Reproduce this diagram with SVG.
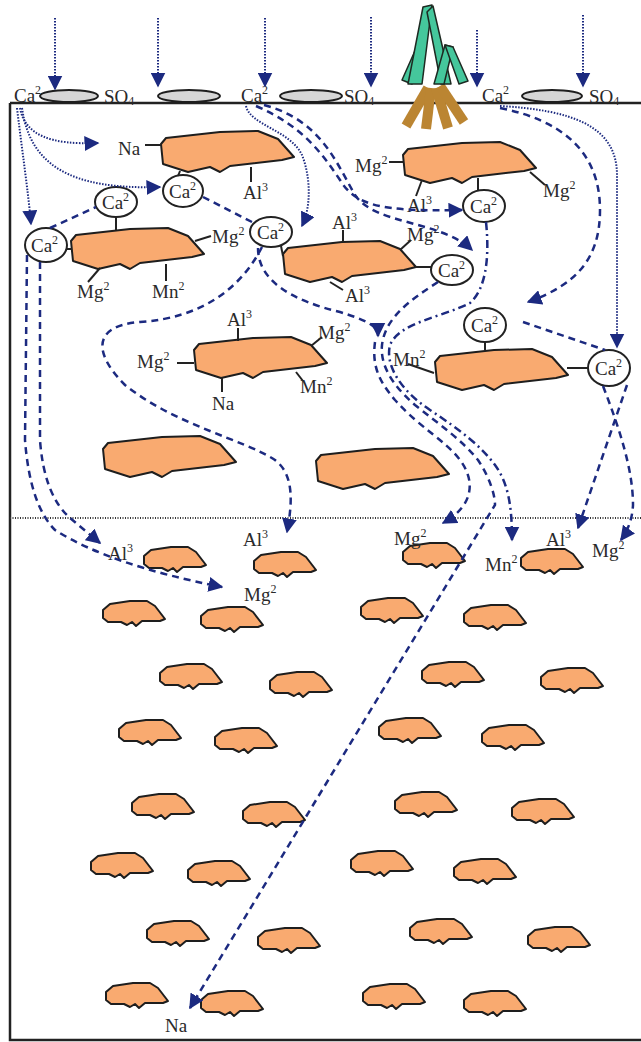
<svg xmlns="http://www.w3.org/2000/svg" width="641" height="1042" viewBox="0 0 641 1042">
<style>
  .p { fill: #f9aa70; stroke: #1e1e1e; stroke-width: 2; stroke-linejoin: round; }
  .t { font-family: "Liberation Serif", "Times New Roman", serif; font-size: 19px; fill: #2a2a2a; }
  .s { font-size: 12px; }
  .ion { fill: none; stroke: #222; stroke-width: 2; }
  .lk { stroke: #222; stroke-width: 2; fill: none; }
  .dot { fill: none; stroke: #1c2a80; stroke-width: 2; stroke-dasharray: 1.5 1.5; }
  .dash { fill: none; stroke: #1c2a80; stroke-width: 2.5; stroke-dasharray: 7 5; }
  .dd { fill: none; stroke: #1c2a80; stroke-width: 2.5; stroke-dasharray: 8 4 2 4; }
  .leaf { fill: #45c79c; stroke: #1e2a22; stroke-width: 1.5; stroke-linejoin: round; }
  .root { stroke: #bb8532; stroke-width: 10; }
  .disc { fill: #d6d6d6; stroke: #1e1e1e; stroke-width: 2; }
</style>
<defs>
  <marker id="ah" viewBox="0 0 10 10" refX="9" refY="5" markerWidth="15" markerHeight="15" markerUnits="userSpaceOnUse" orient="auto">
    <path d="M0,0 L10,5 L0,10 Z" fill="#1c2a80"/>
  </marker>
  <polygon id="big" points="1,14 6,8 60,2 98,1 118,9 134,27 122,30 70,36 60,42 50,37 28,42 3,34"/>
  <polygon id="small" points="1,10 8,4 28,1 45,1 53,6 63,19 58,21 40,21 34,26 30,22 25,25 19,22 6,22 1,18"/>
</defs>
<rect width="641" height="1042" fill="#fff"/>

<!-- soil profile frame -->
<g id="frame">
  <path d="M10,103 L641,103" stroke="#222" stroke-width="2.5"/>
  <path d="M10,103 L10,1040 L641,1040" stroke="#222" stroke-width="2.5" fill="none"/>
  <path d="M10,518 L641,518" stroke="#333" stroke-width="2" stroke-dasharray="1 1.5"/>
</g>

<!-- surface: gypsum granules and dissolving ions -->
<g id="surface">
  <ellipse class="disc" cx="69" cy="96" rx="29" ry="6"/>
  <ellipse class="disc" cx="189" cy="96" rx="31" ry="6"/>
  <ellipse class="disc" cx="311" cy="96" rx="31" ry="6"/>
  <ellipse class="disc" cx="552" cy="96" rx="30" ry="6"/>
  <text class="t" x="14" y="102">Ca<tspan class="s" dy="-8">2</tspan></text>
  <text class="t" x="104" y="103">SO<tspan class="s" dy="2" font-size="7">4</tspan></text>
  <text class="t" x="241" y="102">Ca<tspan class="s" dy="-8">2</tspan></text>
  <text class="t" x="344" y="103">SO<tspan class="s" dy="2" font-size="7">4</tspan></text>
  <text class="t" x="482" y="102">Ca<tspan class="s" dy="-8">2</tspan></text>
  <text class="t" x="589" y="103">SO<tspan class="s" dy="2" font-size="7">4</tspan></text>
</g>

<!-- plant -->
<g id="plant">
  <line class="root" x1="428" y1="88" x2="406" y2="126"/>
  <line class="root" x1="431" y1="88" x2="426" y2="129"/>
  <line class="root" x1="436" y1="88" x2="448" y2="128"/>
  <line class="root" x1="440" y1="86" x2="464" y2="122"/>
  <polygon class="leaf" points="402,80 418,44 425,48 412,84"/>
  <polygon class="leaf" points="408,84 423,7 432,5 422,84"/>
  <polygon class="leaf" points="427,12 433,6 451,84 441,84"/>
  <polygon class="leaf" points="434,84 445,45 453,47 444,84"/>
  <polygon class="leaf" points="445,45 453,47 468,81 459,84"/>
</g>

<!-- exchange sites in the upper layer -->
<g id="particle-1">
  <use href="#big" class="p" x="160" y="130"/>
  <line class="lk" x1="145" y1="145" x2="162" y2="145"/>
  <line class="lk" x1="180" y1="171" x2="178" y2="176"/>
  <line class="lk" x1="251" y1="167" x2="251" y2="182"/>
  <ellipse class="ion" cx="183" cy="191" rx="20" ry="16"/>
  <text class="t" x="118" y="155">Na</text>
  <text class="t" x="169" y="198">Ca<tspan class="s" dy="-8">2</tspan></text>
  <text class="t" x="243" y="199">Al<tspan class="s" dy="-8">3</tspan></text>
</g>
<g id="particle-2">
  <use href="#big" class="p" x="70" y="227"/>
  <line class="lk" x1="116" y1="217" x2="116" y2="230"/>
  <line class="lk" x1="66" y1="249" x2="72" y2="249"/>
  <line class="lk" x1="195" y1="241" x2="211" y2="236"/>
  <line class="lk" x1="100" y1="268" x2="88" y2="282"/>
  <line class="lk" x1="166" y1="264" x2="166" y2="281"/>
  <ellipse class="ion" cx="116" cy="202" rx="21" ry="15"/>
  <ellipse class="ion" cx="46" cy="245" rx="21" ry="17"/>
  <text class="t" x="102" y="209">Ca<tspan class="s" dy="-8">2</tspan></text>
  <text class="t" x="31" y="252">Ca<tspan class="s" dy="-8">2</tspan></text>
  <text class="t" x="212" y="243">Mg<tspan class="s" dy="-8">2</tspan></text>
  <text class="t" x="77" y="298">Mg<tspan class="s" dy="-8">2</tspan></text>
  <text class="t" x="152" y="298">Mn<tspan class="s" dy="-8">2</tspan></text>
</g>
<g id="particle-3">
  <use href="#big" class="p" x="282" y="240"/>
  <line class="lk" x1="281" y1="246" x2="283" y2="256"/>
  <line class="lk" x1="343" y1="242" x2="343" y2="230"/>
  <line class="lk" x1="400" y1="250" x2="411" y2="240"/>
  <line class="lk" x1="330" y1="282" x2="343" y2="290"/>
  <line class="lk" x1="415" y1="267" x2="431" y2="267"/>
  <ellipse class="ion" cx="271" cy="232" rx="21" ry="15"/>
  <ellipse class="ion" cx="452" cy="270" rx="21" ry="15"/>
  <text class="t" x="257" y="239">Ca<tspan class="s" dy="-8">2</tspan></text>
  <text class="t" x="438" y="277">Ca<tspan class="s" dy="-8">2</tspan></text>
  <text class="t" x="332" y="229">Al<tspan class="s" dy="-8">3</tspan></text>
  <text class="t" x="407" y="241">Mg<tspan class="s" dy="-8">2</tspan></text>
  <text class="t" x="345" y="302">Al<tspan class="s" dy="-8">3</tspan></text>
</g>
<g id="particle-4">
  <use href="#big" class="p" x="402" y="141"/>
  <line class="lk" x1="389" y1="162" x2="403" y2="162"/>
  <line class="lk" x1="530" y1="172" x2="545" y2="185"/>
  <line class="lk" x1="422" y1="180" x2="416" y2="196"/>
  <line class="lk" x1="478" y1="178" x2="478" y2="191"/>
  <ellipse class="ion" cx="484" cy="206" rx="21" ry="16"/>
  <text class="t" x="470" y="213">Ca<tspan class="s" dy="-8">2</tspan></text>
  <text class="t" x="355" y="172">Mg<tspan class="s" dy="-8">2</tspan></text>
  <text class="t" x="543" y="197">Mg<tspan class="s" dy="-8">2</tspan></text>
  <text class="t" x="407" y="212">Al<tspan class="s" dy="-8">3</tspan></text>
</g>
<g id="particle-5">
  <use href="#big" class="p" x="193" y="336"/>
  <line class="lk" x1="238" y1="341" x2="238" y2="328"/>
  <line class="lk" x1="177" y1="363" x2="194" y2="363"/>
  <line class="lk" x1="222" y1="377" x2="222" y2="392"/>
  <line class="lk" x1="311" y1="346" x2="322" y2="337"/>
  <line class="lk" x1="296" y1="372" x2="303" y2="381"/>
  <text class="t" x="227" y="326">Al<tspan class="s" dy="-8">3</tspan></text>
  <text class="t" x="137" y="368">Mg<tspan class="s" dy="-8">2</tspan></text>
  <text class="t" x="212" y="410">Na</text>
  <text class="t" x="318" y="339">Mg<tspan class="s" dy="-8">2</tspan></text>
  <text class="t" x="300" y="393">Mn<tspan class="s" dy="-8">2</tspan></text>
</g>
<g id="particle-6">
  <use href="#big" class="p" x="434" y="348"/>
  <line class="lk" x1="485" y1="342" x2="485" y2="350"/>
  <line class="lk" x1="408" y1="364" x2="434" y2="373"/>
  <line class="lk" x1="567" y1="368" x2="588" y2="368"/>
  <ellipse class="ion" cx="485" cy="325" rx="21" ry="17"/>
  <ellipse class="ion" cx="609" cy="368" rx="21" ry="18"/>
  <text class="t" x="471" y="332">Ca<tspan class="s" dy="-8">2</tspan></text>
  <text class="t" x="595" y="375">Ca<tspan class="s" dy="-8">2</tspan></text>
  <text class="t" x="393" y="366">Mn<tspan class="s" dy="-8">2</tspan></text>
</g>
<g id="particle-7"><use href="#big" class="p" x="102" y="435"/></g>
<g id="particle-8"><use href="#big" class="p" x="315" y="447"/></g>

<!-- subsoil aggregates -->
<g id="subsoil" class="p">
  <use href="#small" x="143" y="546"/><use href="#small" x="253" y="551"/><use href="#small" x="402" y="542"/><use href="#small" x="520" y="548"/>
  <use href="#small" x="102" y="600"/><use href="#small" x="200" y="606"/><use href="#small" x="360" y="597"/><use href="#small" x="463" y="604"/>
  <use href="#small" x="159" y="663"/><use href="#small" x="269" y="671"/><use href="#small" x="421" y="661"/><use href="#small" x="540" y="667"/>
  <use href="#small" x="118" y="719"/><use href="#small" x="214" y="727"/><use href="#small" x="378" y="717"/><use href="#small" x="481" y="724"/>
  <use href="#small" x="131" y="793"/><use href="#small" x="242" y="801"/><use href="#small" x="394" y="791"/><use href="#small" x="511" y="798"/>
  <use href="#small" x="90" y="852"/><use href="#small" x="187" y="860"/><use href="#small" x="350" y="850"/><use href="#small" x="453" y="858"/>
  <use href="#small" x="146" y="920"/><use href="#small" x="257" y="927"/><use href="#small" x="409" y="918"/><use href="#small" x="527" y="926"/>
  <use href="#small" x="105" y="982"/><use href="#small" x="200" y="990"/><use href="#small" x="362" y="983"/><use href="#small" x="463" y="990"/>
</g>

<!-- leached ions -->
<g id="leached">
  <text class="t" x="108" y="560">Al<tspan class="s" dy="-8">3</tspan></text>
  <text class="t" x="244" y="601">Mg<tspan class="s" dy="-8">2</tspan></text>
  <text class="t" x="243" y="546">Al<tspan class="s" dy="-8">3</tspan></text>
  <text class="t" x="394" y="545">Mg<tspan class="s" dy="-8">2</tspan></text>
  <text class="t" x="485" y="571">Mn<tspan class="s" dy="-8">2</tspan></text>
  <text class="t" x="546" y="546">Al<tspan class="s" dy="-8">3</tspan></text>
  <text class="t" x="592" y="557">Mg<tspan class="s" dy="-8">2</tspan></text>
  <text class="t" x="165" y="1032">Na</text>
</g>

<!-- water / solution movement -->
<g id="connectors" marker-end="url(#ah)">
  <path class="dot" d="M55,18 L55,89"/>
  <path class="dot" d="M158,18 L158,86"/>
  <path class="dot" d="M265,18 L265,86"/>
  <path class="dot" d="M371,17 L371,86"/>
  <path class="dot" d="M477,30 L477,86"/>
  <path class="dot" d="M583,15 L583,86"/>

  <path class="dot" d="M20,108 C25,135 50,145 98,143"/>
  <path class="dot" d="M22,108 C30,165 70,190 160,187"/>
  <path class="dot" d="M17,108 C22,150 28,190 31,224"/>
  <path class="dot" d="M246,106 C250,125 290,130 302,155 C310,175 312,205 302,226"/>
  <path class="dot" d="M500,106 C570,110 617,125 617,175 L617,347"/>

  <path class="dash" d="M256,106 C300,125 320,150 340,180 C355,205 380,212 462,210"/>
  <path class="dash" d="M264,105 C320,120 335,160 355,195 C375,225 440,220 472,250"/>
  <path class="dash" d="M500,108 C560,120 600,150 600,210 C600,260 575,285 528,302"/>
  <path class="dash" d="M27,255 L25,440 Q30,505 55,530 Q110,565 222,587"/>
  <path class="dash" d="M40,262 L40,440 Q44,495 70,518 L100,543"/>
  <path class="dash" d="M262,247 C240,290 200,318 140,322 C90,326 95,355 125,385 C175,425 245,440 275,460 C295,475 292,505 287,532"/>
  <path class="dash" d="M258,248 C258,280 290,300 340,312 C365,320 378,325 378,336"/>
  <path class="dash" d="M375,342 C372,365 378,380 395,400 C420,428 445,440 460,460 C475,480 475,505 443,523"/>
  <path class="dash" d="M438,282 C410,300 385,318 382,345 C380,365 392,385 415,405 C440,425 462,440 478,460 C490,478 495,495 495,505 L190,1008"/>
  <path class="dd" d="M486,222 C490,260 485,290 470,303 C440,318 400,322 390,345 C385,365 400,390 430,410 C460,430 480,445 495,465 C508,483 512,505 512,540"/>
  <path class="dash" d="M603,386 C620,430 633,470 633,505 Q632,525 621,540"/>
  <path class="dash" d="M627,385 L578,528"/>
</g>
<g id="links" class="dash">
  <path d="M203,197 L252,222"/>
  <path d="M50,228 L96,207"/>
  <path d="M523,322 L605,350"/>
</g>
</svg>
